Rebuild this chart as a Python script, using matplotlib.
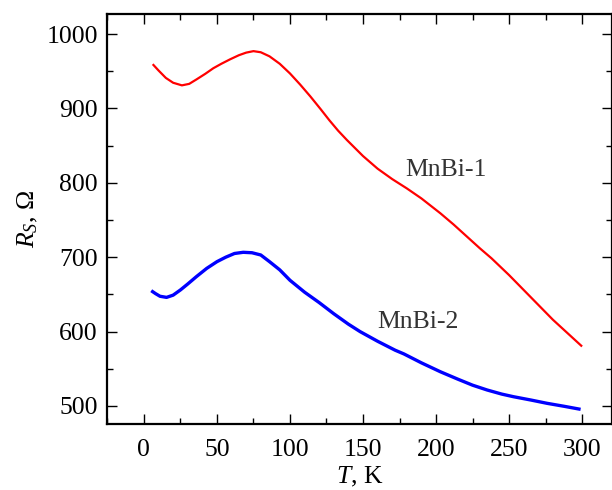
import matplotlib
matplotlib.use("Agg")
import matplotlib.pyplot as plt
from matplotlib.ticker import MultipleLocator

plt.rcParams['font.family'] = ['Liberation Serif', 'DejaVu Serif']
plt.rcParams['mathtext.fontset'] = 'custom'
plt.rcParams['mathtext.rm'] = 'Liberation Serif'
plt.rcParams['mathtext.it'] = 'Liberation Serif:italic'

# MnBi-1 (red)
t1 = [6, 10, 15, 20, 26, 31, 36, 42, 47.5, 53, 59, 65, 70, 75, 80, 86, 93, 100,
      107, 114, 121, 127, 133, 139, 150, 160, 170, 180, 190, 203, 212, 221, 230,
      238, 250, 264, 280, 300]
r1 = [959.5, 951, 941, 934.5, 931, 933, 939, 946.5, 954, 960, 966, 971.5, 975,
      977, 975.5, 970, 960, 947, 932, 916, 899, 884, 870, 857.5, 836, 819, 805,
      792.5, 779, 759, 744, 728, 712, 698.5, 676, 648, 616, 580]

# MnBi-2 (blue)
t2 = [5, 8, 11, 15.5, 20, 25, 30, 36, 43, 50, 56, 62, 68, 74, 80, 86, 93, 100,
      110, 120, 130, 140, 148, 160, 172, 178, 190, 203, 215, 225, 235, 245, 253,
      265, 276, 288, 299]
r2 = [655, 651, 647.5, 646, 649, 656, 664, 674, 685, 694, 700, 705, 706.6, 706,
      703, 694, 683, 669, 653, 639, 624, 610, 600, 587, 575, 570, 558, 546, 536,
      528, 521.5, 516, 512.5, 508, 503.6, 499.5, 495.5]

labels = ["MnBi-1", "MnBi-2"]
label_pos = [(179, 817), (160, 613)]

fig = plt.figure(figsize=(6.12, 4.9), dpi=100)
ax = fig.add_axes([0.1748, 0.1347, 0.8245, 0.8367])

ax.plot(t1, r1, color='#ff0000', lw=1.6, solid_capstyle='butt')
ax.plot(t2, r2, color='#0000ff', lw=2.4, solid_capstyle='butt')

for lab, (x, y) in zip(labels, label_pos):
    ax.text(x, y, lab, fontsize=18.5, color='#333333', ha='left', va='center')

ax.set_xlim(-25.3, 320.2)
ax.set_ylim(475.8, 1026.9)
ax.xaxis.set_major_locator(MultipleLocator(50))
ax.xaxis.set_minor_locator(MultipleLocator(25))
ax.yaxis.set_major_locator(MultipleLocator(100))
ax.yaxis.set_minor_locator(MultipleLocator(50))
ax.tick_params(which='both', direction='in', top=True, right=True,
               labelsize=18.5, width=1.0, colors='black')
ax.tick_params(which='major', length=7.5)
ax.tick_params(which='minor', length=4)
ax.tick_params(axis='x', which='major', pad=11)
ax.tick_params(axis='y', which='major', pad=6.5)
for s in ax.spines.values():
    s.set_linewidth(1.6)

ax.set_xlabel(r'$T$, K', fontsize=18.5, labelpad=2.5)
ax.set_ylabel(r'$R_S$, Ω', fontsize=18.5, labelpad=5)

fig.savefig('out.png', dpi=100)
